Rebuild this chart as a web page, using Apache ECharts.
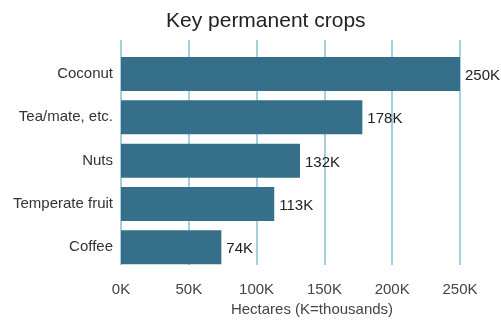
<!DOCTYPE html>
<html>
<head>
<meta charset="utf-8">
<script src="https://cdn.jsdelivr.net/npm/echarts@6/dist/echarts.min.js"></script>
<style>
html,body{margin:0;padding:0;background:#fff;}
#chart{width:501px;height:322px;}
</style>
</head>
<body>
<div id="chart"></div>
<script>
var categories = ['Coconut', 'Tea/mate, etc.', 'Nuts', 'Temperate fruit', 'Coffee'];
var hectares = [250000, 178000, 132000, 113000, 74000];
var xTicks = [0, 50000, 100000, 150000, 200000, 250000];

var fontFam = 'Liberation Sans, Arial, sans-serif';
function kfmt(v) { return Math.round(v / 1000) + 'K'; }

var chart = echarts.init(document.getElementById('chart'), null, {renderer: 'canvas'});
chart.setOption({
  animation: false,
  backgroundColor: '#ffffff',
  title: {
    text: 'Key permanent crops',
    left: 161,
    top: 6,
    textStyle: {fontFamily: fontFam, fontSize: 21, fontWeight: 'normal', color: '#222'}
  },
  grid: [
    {left: 121, right: 41, top: 40, bottom: 46},
    {left: 121, right: 41, top: 52.3, bottom: 53}
  ],
  xAxis: [
    {
      gridIndex: 0, type: 'value', min: xTicks[0], max: xTicks[xTicks.length - 1], interval: 50000,
      axisLine: {show: false}, axisTick: {show: false},
      splitLine: {show: true, lineStyle: {color: '#86c1d4', width: 1.5}},
      axisLabel: {margin: 17, formatter: kfmt, fontFamily: fontFam, fontSize: 15, color: '#444'},
      name: 'Hectares (K=thousands)', nameLocation: 'middle', nameGap: 31,
      nameTextStyle: {fontFamily: fontFam, fontSize: 15, color: '#444', padding: [0, 0, 0, 43]}
    },
    {
      gridIndex: 1, type: 'value', min: xTicks[0], max: xTicks[xTicks.length - 1],
      show: false, splitLine: {show: false}
    }
  ],
  yAxis: [
    {gridIndex: 0, type: 'value', show: false, splitLine: {show: false}},
    {
      gridIndex: 1, type: 'category', data: categories, inverse: true,
      axisLine: {show: false}, axisTick: {show: false}, splitLine: {show: false},
      axisLabel: {margin: 8, fontFamily: fontFam, fontSize: 15, color: '#333'}
    }
  ],
  series: [{
    type: 'bar', xAxisIndex: 1, yAxisIndex: 1,
    data: hectares, barWidth: 34,
    itemStyle: {color: '#356f8a'},
    label: {show: true, position: 'right', distance: 5, offset: [0, 2], formatter: function (p) { return kfmt(p.value); },
      fontFamily: fontFam, fontSize: 15, color: '#222'}
  }]
});
</script>
</body>
</html>
